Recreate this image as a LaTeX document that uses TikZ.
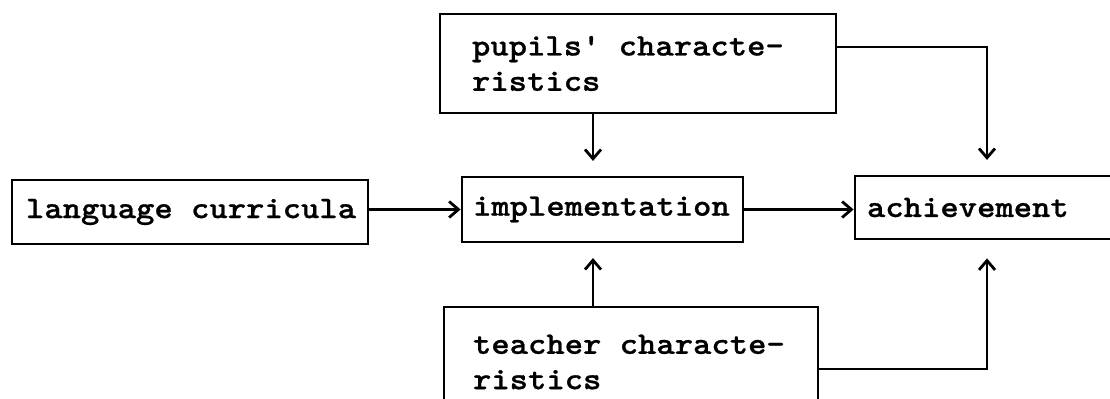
\documentclass[tikz,border=0pt]{standalone}
\usepackage{fontspec}
\newfontfamily\boxfont[FakeStretch=1.115,FakeBold=0.8]{Latin Modern Mono Light}
\usetikzlibrary{arrows.meta}
% a blank as wide as one character of the current monospaced font
\newcommand\wsp{\phantom{a}}
\begin{document}
\begin{tikzpicture}[x=0.75pt,y=-0.75pt,
  box/.style={draw, line width=2.1pt, align=left, inner ysep=0pt,
    font={\boxfont\bfseries\fontsize{23.5}{21.5}\selectfont\hyphenchar\font=-1 }},
  arr/.style={line width=2.1pt, -{Straight Barb[length=7pt,width=12pt]}},
  gap/.style={shorten >=#1}]
\useasboundingbox (0,0) rectangle (1110,399);
\clip (0,0) rectangle (1110,399);

% boxes
\node[box, text width=246pt, inner xsep=10.5pt, minimum height=48pt]
  (lang) at (190,212) {language\wsp curricula};
\node[box, text width=194.25pt, inner xsep=8.25pt, minimum height=48.75pt]
  (impl) at (602.5,209.5) {implementation};
\node[box, text width=184.5pt, inner xsep=9pt, minimum height=47.25pt]
  (ach) at (990,207.5) {achievement};
\node[box, text width=249pt, inner xsep=24pt, minimum height=74.25pt]
  (pupils) at (638,63.5) {\vspace*{5pt}pupils'\wsp characte-\\ristics};
\node[box, text width=237pt, inner xsep=21.75pt, minimum height=82.5pt]
  (teacher) at (631,362) {\vspace*{5pt}teacher\wsp characte-\\ristics};

% routing columns and rows
\coordinate (c1) at (593,0);
\coordinate (c2) at (987,0);
\coordinate (r1) at (0,47);
\coordinate (r2) at (0,369);

% connectors
\draw[arr] (lang.east |- impl.west) -- (impl.west);
\draw[arr] (impl.east) -- (impl.east -| ach.west);
\draw[arr, gap=11pt] (pupils.south -| c1) -- (impl.north -| c1);
\draw[arr, gap=11pt] (teacher.north -| c1) -- (impl.south -| c1);
\draw[arr, gap=11pt] (pupils.east |- r1) -| (c2 |- ach.north);
\draw[arr, gap=13.5pt] (teacher.east |- r2) -| (c2 |- ach.south);
\end{tikzpicture}
\end{document}
